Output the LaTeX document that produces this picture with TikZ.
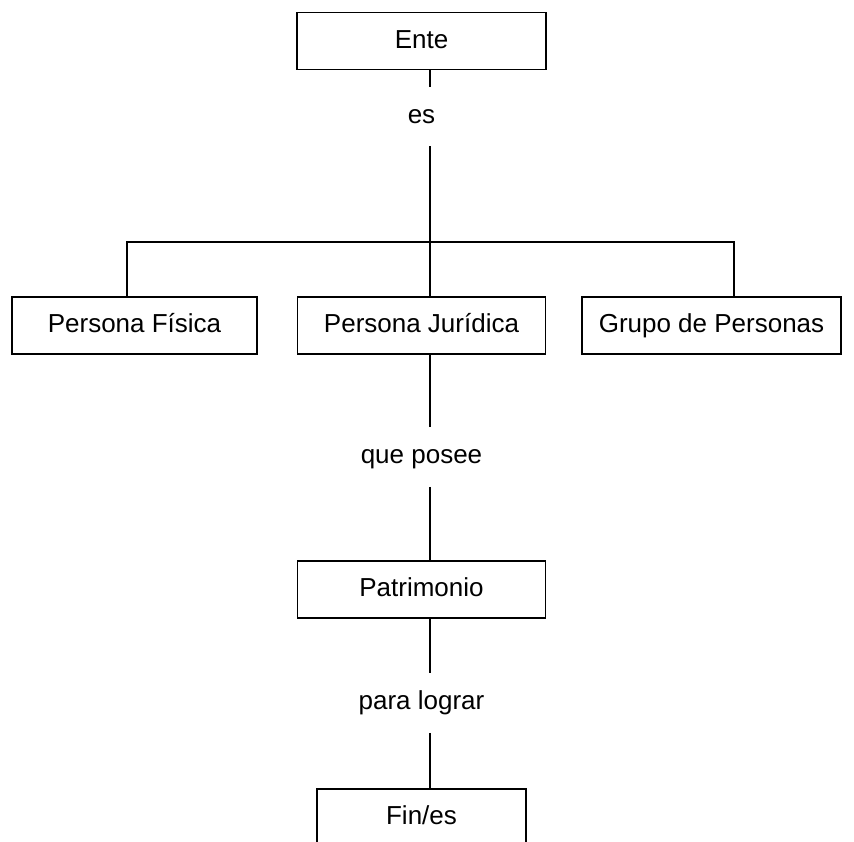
\documentclass[tikz,border=0pt]{standalone}
\usepackage{fontspec}
\setmainfont{Liberation Sans}
\usetikzlibrary{positioning, calc}

\begin{document}
\begin{tikzpicture}[x=1pt, y=-1pt, line width=1.6pt,
  font=\fontsize{26}{30}\selectfont,
  caja/.style={draw, minimum height=57pt, inner sep=0pt, text height=18.6pt, text depth=4pt},
  nexo/.style={inner sep=0pt, minimum height=58pt, text height=19pt, text depth=6pt}]
  \clip (0,0) rectangle (854,841);

  \node[caja, minimum width=249pt] (ente) at (421.5,41) {Ente};
  \node[nexo] (es) at (421.5,116.5) {es};

  \node[caja, minimum width=245pt] (fisica) at (134.5,325.5) {Persona Física};
  \node[caja, minimum width=248pt] (juridica) at (421.5,325.5) {Persona Jurídica};
  \node[caja, minimum width=259pt] (grupo) at (711.5,325.5) {Grupo de Personas};

  \node[nexo] (posee) at (421.5,457) {que posee};
  \node[caja, minimum width=248pt] (patrimonio) at (421.5,589.5) {Patrimonio};
  \node[nexo] (lograr) at (421.5,703) {para lograr};
  \node[caja, minimum width=209pt] (fines) at (421.5,817.5) {Fin/es};

  \coordinate (eje) at (430,242);
  \coordinate (izq) at (127,242);
  \coordinate (der) at (734,242);

  \draw (ente.south -| eje) -- (es.north -| eje);
  \draw (es.south -| eje) -- (juridica.north -| eje);
  \draw (izq |- fisica.north) -- (izq) -- (der) -- (der |- grupo.north);
  \draw (juridica.south -| eje) -- (posee.north -| eje);
  \draw (posee.south -| eje) -- (patrimonio.north -| eje);
  \draw (patrimonio.south -| eje) -- (lograr.north -| eje);
  \draw (lograr.south -| eje) -- (fines.north -| eje);
\end{tikzpicture}
\end{document}
